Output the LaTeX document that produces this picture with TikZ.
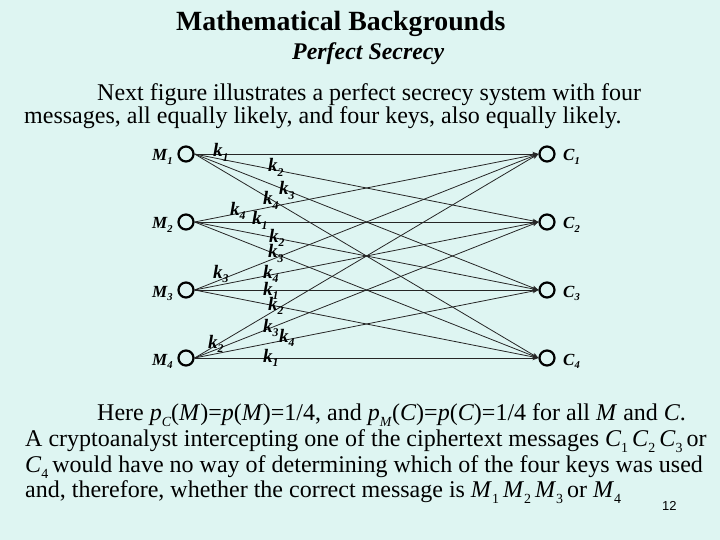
\documentclass[tikz,border=0pt]{standalone}
\usepackage{fontspec}
\setmainfont{Liberation Serif}
\newfontfamily\pagenumfont{Liberation Sans}
\usetikzlibrary{arrows.meta}
\definecolor{slidebg}{RGB}{222,245,242}
\newcommand\sbx[1]{\raisebox{-0.22em}{\scalebox{0.62}{#1}}}
\newcommand\tsb[1]{\raisebox{-0.26em}{\scalebox{0.58}{#1}}}
\begin{document}
\begin{tikzpicture}[x=1pt,y=-1pt,
  txt/.style={anchor=base west, inner sep=0pt, font=\fontsize{24}{24}\selectfont},
  state/.style={circle, draw=black, line width=2.2pt, minimum size=15pt, inner sep=0pt, fill=slidebg},
  lbl/.style={anchor=base west, inner sep=0pt, font=\fontsize{17}{17}\selectfont\bfseries\itshape},
  key/.style={anchor=base west, inner sep=0pt, font=\fontsize{19}{19}\selectfont\bfseries\itshape},
  edge/.style={line width=0.8pt, draw=black!85, -{Stealth[length=6pt,width=4.5pt]}},
]
\fill[slidebg] (0,0) rectangle (720,540);
\useasboundingbox (0,0) rectangle (720,540);

% titles
\node[anchor=base west, inner sep=0pt, font=\fontsize{27.8}{28}\selectfont\bfseries] (title) at (176,31) {Mathematical Backgrounds};
\node[anchor=base west, inner sep=0pt, font=\fontsize{23.9}{24}\selectfont\bfseries\itshape] (subtitle) at (292,60) {Perfect Secrecy};

% paragraph 1
\node[txt] (p1a) at (97,101) {Next figure illustrates a perfect secrecy system with four};
\node[txt] (p1b) at (24,124) {messages, all equally likely, and four keys, also equally likely.};

% states
\foreach \i/\y in {1/154,2/222,3/290,4/358}{
  \node[state] (M\i) at (186,\y) {};
  \node[state] (C\i) at (547,\y) {};
  \node[lbl] (ML\i) at (152,\y+7) {M\sbx{\i}};
  \node[lbl] (CL\i) at (563,\y+7) {C\sbx{\i}};
}

% edges
\foreach \i in {1,...,4}{
  \foreach \j in {1,...,4}{
    \draw[edge] (M\i.east) -- (C\j.west);
  }
}

% key labels
\node[key] (k11) at (213,157) {k\sbx{1}};
\node[key] (k12) at (268,172) {k\sbx{2}};
\node[key] (k13) at (279,195) {k\sbx{3}};
\node[key] (k14) at (263,205) {k\sbx{4}};
\node[key] (k21) at (230,215) {k\sbx{4}};
\node[key] (k22) at (252,225) {k\sbx{1}};
\node[key] (k23) at (269,242) {k\sbx{2}};
\node[key] (k24) at (268,258) {k\sbx{3}};
\node[key] (k31) at (213,278) {k\sbx{3}};
\node[key] (k32) at (263,278) {k\sbx{4}};
\node[key] (k33) at (263,295) {k\sbx{1}};
\node[key] (k34) at (268,310) {k\sbx{2}};
\node[key] (k41) at (208,348) {k\sbx{2}};
\node[key] (k42) at (263,332) {k\sbx{3}};
\node[key] (k43) at (279,342) {k\sbx{4}};
\node[key] (k44) at (263,362) {k\sbx{1}};

% paragraph 2
\node[txt] (p2a) at (97,420) {Here \textit{p}\tsb{\textit{C}}(\textit{M})=\textit{p}(\textit{M})=1/4, and \textit{p}\tsb{\textit{M}}(\textit{C})=\textit{p}(\textit{C})=1/4 for all \textit{M} and \textit{C}.};
\node[txt] (p2b) at (25,446) {A cryptoanalyst intercepting one of the ciphertext messages \textit{C}\tsb{1}\,\textit{C}\tsb{2}\,\textit{C}\tsb{3}\,or};
\node[txt] (p2c) at (25,472) {\textit{C}\tsb{4}\,would have no way of determining which of the four keys was used};
\node[txt] (p2d) at (25,497) {and, therefore, whether the correct message is \textit{M}\tsb{1}\,\textit{M}\tsb{2}\,\textit{M}\tsb{3}\,or \textit{M}\tsb{4}};

\node[anchor=base west, inner sep=0pt, font=\pagenumfont\fontsize{13}{13}\selectfont] (pnum) at (662,510) {12};
\end{tikzpicture}
\end{document}
